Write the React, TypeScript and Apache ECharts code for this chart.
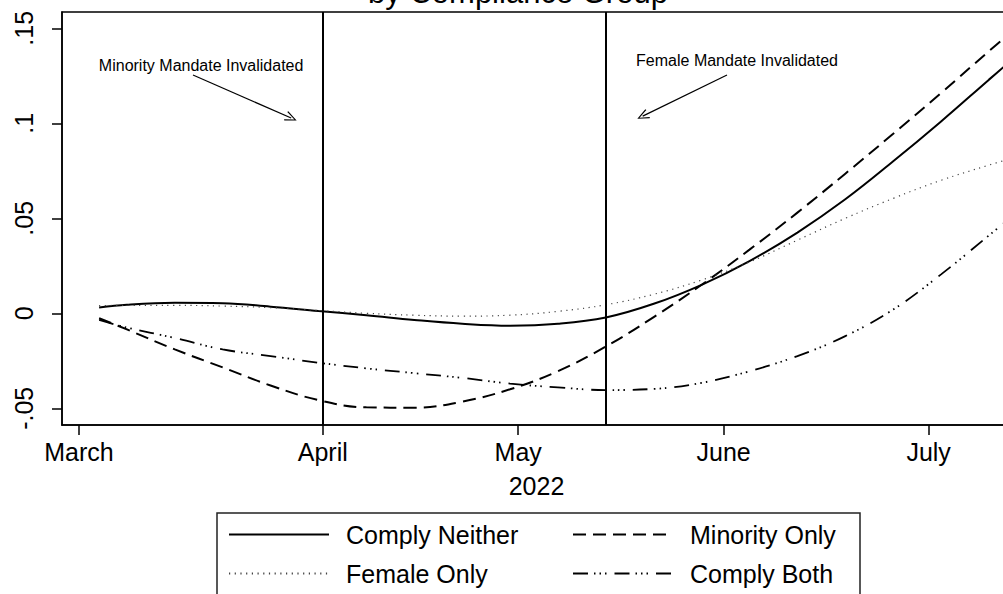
import React, { useEffect, useRef } from 'react';
import * as echarts from 'echarts';

// x positions in weeks (0 = March tick)
const xWeeks = [0.42, 1, 2, 3, 4, 5, 6, 7, 8, 9, 10, 11, 12, 13, 14, 15, 16, 17, 18, 19, 19.46];
const complyNeither = [0.003, 0.0045, 0.0055, 0.0053, 0.0035, 0.0012, -0.001, -0.0035, -0.0055, -0.0065, -0.0055, -0.0022, 0.005, 0.015, 0.0275, 0.0425, 0.06, 0.08, 0.101, 0.123, 0.133];
const minorityOnly = [-0.0026, -0.0085, -0.019, -0.0285, -0.038, -0.0457, -0.0495, -0.0497, -0.0465, -0.04, -0.0305, -0.0175, -0.002, 0.015, 0.0335, 0.053, 0.0735, 0.0945, 0.116, 0.138, 0.148];
const femaleOnly = [0.004, 0.0042, 0.0042, 0.0038, 0.003, 0.0015, 0.0, -0.001, -0.0015, -0.001, 0.001, 0.0045, 0.01, 0.0175, 0.027, 0.0385, 0.05, 0.0605, 0.07, 0.078, 0.0815];
const complyBoth = [-0.0035, -0.0075, -0.013, -0.019, -0.0225, -0.026, -0.029, -0.0315, -0.034, -0.037, -0.039, -0.0404, -0.0398, -0.0366, -0.0305, -0.0225, -0.012, 0.002, 0.0205, 0.041, 0.0505];

const xTickValues = [0, 5.09, 9.17, 13.46, 17.74];
const xTickLabels = ['March', 'April', 'May', 'June', 'July'];
const yTickValues = [-0.05, 0, 0.05, 0.1, 0.15];
const yTickLabels = ['-.05', '0', '.05', '.1', '.15'];
const eventWeeks = [5.09, 11.0];
const annotationTexts = ['Minority Mandate Invalidated', 'Female Mandate Invalidated'];
const annotationTextPos = [[2.55, 0.1307], [13.74, 0.1333]];
const arrowFrom = [[2.38, 0.1254], [13.53, 0.1254]];
const arrowTo = [[4.43, 0.1028], [11.77, 0.1038]];

const FONT = "'Liberation Sans', Arial, sans-serif";
const CHEVRON = 'path://M0,10 L5,0 L10,10 L9,10.6 L5,2.2 L1,10.6 Z';

const pair = (ys: number[]) => xWeeks.map((x, i) => [x, ys[i]]);

function nearestLabel(v: number, vals: number[], labels: string[]) {
  let best = 0;
  for (let i = 1; i < vals.length; i++) {
    if (Math.abs(vals[i] - v) < Math.abs(vals[best] - v)) best = i;
  }
  return labels[best];
}

export default function App() {
  const ref = useRef<HTMLDivElement>(null);
  useEffect(() => {
    if (!ref.current) return;
    const chart = echarts.init(ref.current, undefined, { renderer: 'svg' });
    const legendText = { fontSize: 25, fontFamily: FONT, color: '#000', padding: [0, 0, 0, 12] };
    const legendCommon = {
      orient: 'vertical', top: 522, padding: 0, itemWidth: 100, itemHeight: 14, itemGap: 14,
      selectedMode: false, textStyle: legendText,
      itemStyle: { color: 'rgba(0,0,0,0)', opacity: 0, borderWidth: 0 },
    };
    chart.setOption({
      animation: false,
      backgroundColor: '#fff',
      textStyle: { fontFamily: FONT },
      graphic: [
        {
          type: 'text',
          style: {
            text: 'by Compliance Group', x: 518, y: -8, fontSize: 31, fontFamily: FONT, fill: '#000',
            align: 'center', verticalAlign: 'middle', textAlign: 'center', textVerticalAlign: 'middle',
          },
        },
        {
          type: 'rect',
          shape: { x: 217, y: 513, width: 643, height: 120 },
          style: { fill: 'none', stroke: '#222', lineWidth: 1.5 },
        },
      ],
      grid: {
        left: 62, top: 12, width: 949, height: 413, show: true, containLabel: false,
        outerBoundsMode: 'none',
        borderColor: '#000', borderWidth: 1.5, backgroundColor: 'transparent',
      },
      legend: [
        { ...legendCommon, left: 228, data: ['Comply Neither', 'Female Only'] },
        { ...legendCommon, left: 572, data: ['Minority Only', 'Comply Both'] },
      ],
      xAxis: {
        type: 'value', min: -0.355, max: 19.46,
        name: '2022', nameLocation: 'middle', nameGap: 48,
        nameTextStyle: { fontSize: 25, fontFamily: FONT, color: '#000' },
        axisLine: { show: true, onZero: false, lineStyle: { color: '#000', width: 1.5 } },
        axisTick: { show: true, length: 10, lineStyle: { color: '#000', width: 1.5 }, customValues: xTickValues },
        axisLabel: {
          fontSize: 25, fontFamily: FONT, color: '#000', margin: 14, customValues: xTickValues,
          formatter: (v: number) => nearestLabel(v, xTickValues, xTickLabels),
        },
        splitLine: { show: false },
      },
      yAxis: {
        type: 'value', min: -0.0588, max: 0.1586,
        axisLine: { show: true, onZero: false, lineStyle: { color: '#000', width: 1.5 } },
        axisTick: { show: true, length: 10, lineStyle: { color: '#000', width: 1.5 }, customValues: yTickValues },
        axisLabel: {
          fontSize: 25, fontFamily: FONT, color: '#000', rotate: 90, margin: 26, customValues: yTickValues,
          formatter: (v: number) => nearestLabel(v, yTickValues, yTickLabels),
        },
        splitLine: { show: false },
      },
      series: [
        {
          name: 'Comply Neither', type: 'line', data: pair(complyNeither), smooth: 0.4, symbol: 'none',
          lineStyle: { color: '#000', width: 2, type: 'solid' }, itemStyle: { color: '#000' },
          markLine: {
            silent: true, symbol: ['none', 'none'], label: { show: false },
            data: [
              ...eventWeeks.map((w) => ({ xAxis: w, lineStyle: { color: '#000', width: 2, type: 'solid' } })),
              ...arrowFrom.map((f, i) => [
                { coord: f, symbol: 'none', lineStyle: { color: '#000', width: 1.2, type: 'solid' } },
                { coord: arrowTo[i], symbol: CHEVRON, symbolSize: [10, 12] },
              ]),
            ],
          },
          markPoint: {
            silent: true, symbol: 'circle', symbolSize: 1, itemStyle: { color: 'rgba(0,0,0,0)' },
            label: { show: true, position: 'inside', fontSize: 16, fontFamily: FONT, color: '#000', formatter: (p: any) => p.name },
            data: annotationTexts.map((t, i) => ({ name: t, coord: annotationTextPos[i] })),
          },
        },
        {
          name: 'Minority Only', type: 'line', data: pair(minorityOnly), smooth: 0.4, symbol: 'none',
          lineStyle: { color: '#000', width: 2, type: [13, 7] }, itemStyle: { color: '#000' },
        },
        {
          name: 'Female Only', type: 'line', data: pair(femaleOnly), smooth: 0.4, symbol: 'none',
          lineStyle: { color: '#444', width: 1.2, type: [1.2, 4.5] }, itemStyle: { color: '#444' },
        },
        {
          name: 'Comply Both', type: 'line', data: pair(complyBoth), smooth: 0.4, symbol: 'none',
          lineStyle: { color: '#000', width: 1.8, type: [15, 6, 1.5, 4, 1.5, 4, 1.5, 8] }, itemStyle: { color: '#000' },
        },
      ],
    });
    return () => chart.dispose();
  }, []);
  return <div ref={ref} style={{ position: 'fixed', left: 0, top: 0, width: 1003, height: 594, background: '#fff' }} />;
}
